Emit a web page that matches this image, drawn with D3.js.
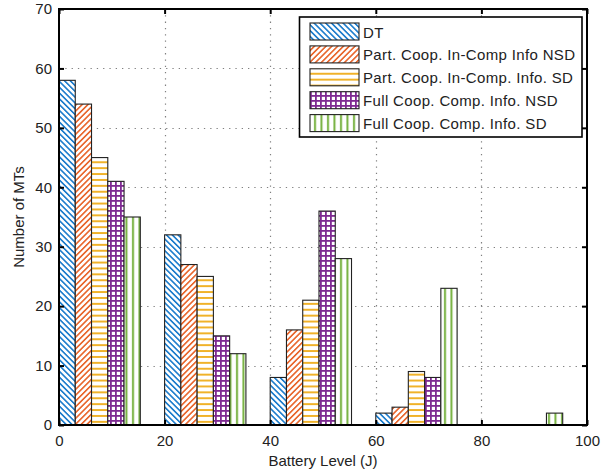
<!DOCTYPE html>
<html><head><meta charset="utf-8">
<script src="https://cdn.jsdelivr.net/npm/d3@7"></script>
<style>
html,body{margin:0;padding:0;background:#fff;}
svg{display:block;font-family:"Liberation Sans",Arial,sans-serif;}
</style></head>
<body>
<svg id="chart" width="608" height="469"></svg>
<script>
// ---- data ----
const categories = [0, 20, 40, 60, 80];
const seriesNames = [
  "DT",
  "Part. Coop. In-Comp Info NSD",
  "Part. Coop. In-Comp. Info. SD",
  "Full Coop. Comp. Info. NSD",
  "Full Coop. Comp. Info. SD"
];
const dtValues       = [58, 32, 8, 2, 0];
const partNsdValues  = [54, 27, 16, 3, 0];
const partSdValues   = [45, 25, 21, 9, 0];
const fullNsdValues  = [41, 15, 36, 8, 0];
const fullSdValues   = [35, 12, 28, 23, 2];
const xTicks = [0, 20, 40, 60, 80, 100];
const yTicks = [0, 10, 20, 30, 40, 50, 60, 70];
const xLabel = "Battery Level (J)";
const yLabel = "Number of MTs";

const seriesValues = [dtValues, partNsdValues, partSdValues, fullNsdValues, fullSdValues];
const colors = ["#1b7bcc", "#e8642a", "#f0b022", "#7e2a92", "#76b13e"];

// ---- layout ----
const W = 608, H = 469;
const m = {left: 59, right: 21, top: 9, bottom: 44};
const pw = W - m.left - m.right, ph = H - m.top - m.bottom;
const barW = 3.08;

const svg = d3.select("#chart");
const defs = svg.append("defs");

// patterns
function diag(id, color, angle) {
  const p = defs.append("pattern").attr("id", id).attr("patternUnits", "userSpaceOnUse")
    .attr("width", 4.1).attr("height", 10).attr("patternTransform", `rotate(${angle})`);
  p.append("rect").attr("width", 4.1).attr("height", 10).attr("fill", "#fff");
  p.append("rect").attr("x", 0).attr("width", 1.6).attr("height", 10).attr("fill", color);
}
diag("pat0", colors[0], -45);
diag("pat1", colors[1], 45);
{
  const p = defs.append("pattern").attr("id", "pat2").attr("patternUnits", "userSpaceOnUse")
    .attr("width", 10).attr("height", 5.9);
  p.append("rect").attr("width", 10).attr("height", 5.9).attr("fill", "#fff");
  p.append("rect").attr("y", 2).attr("width", 10).attr("height", 1.9).attr("fill", colors[2]);
}
{
  const p = defs.append("pattern").attr("id", "pat3").attr("patternUnits", "userSpaceOnUse")
    .attr("width", 5).attr("height", 5);
  p.append("rect").attr("width", 5).attr("height", 5).attr("fill", colors[3]);
  p.append("rect").attr("x", 1.8).attr("y", 1.8).attr("width", 3.2).attr("height", 3.2).attr("fill", "#fff");
}
{
  const p = defs.append("pattern").attr("id", "pat4").attr("patternUnits", "userSpaceOnUse")
    .attr("width", 6.5).attr("height", 10);
  p.append("rect").attr("width", 6.5).attr("height", 10).attr("fill", "#fff");
  p.append("rect").attr("x", 2).attr("width", 2).attr("height", 10).attr("fill", colors[4]);
}

const x = d3.scaleLinear().domain([0, 100]).range([m.left, m.left + pw]);
const y = d3.scaleLinear().domain([0, 70]).range([m.top + ph, m.top]);

// grid
const grid = svg.append("g").attr("stroke", "#808080").attr("stroke-width", 1.2).attr("stroke-dasharray", "1.3,5");
grid.selectAll(".gx").data(xTicks.slice(1, -1)).enter().append("line")
  .attr("x1", d => Math.round(x(d)) + 0.5).attr("x2", d => Math.round(x(d)) + 0.5)
  .attr("y1", m.top).attr("y2", m.top + ph);
grid.selectAll(".gy").data(yTicks.slice(1, -1)).enter().append("line")
  .attr("y1", d => Math.round(y(d)) + 0.5).attr("y2", d => Math.round(y(d)) + 0.5)
  .attr("x1", m.left).attr("x2", m.left + pw);

// bars
const barData = [];
seriesValues.forEach((vals, si) => {
  vals.forEach((v, ci) => {
    if (v > 0) barData.push({s: si, c: categories[ci], v});
  });
});
svg.append("g").selectAll("rect").data(barData).enter().append("rect")
  .attr("x", d => x(d.c + d.s * barW))
  .attr("width", d => x(d.c + (d.s + 1) * barW) - x(d.c + d.s * barW))
  .attr("y", d => y(d.v))
  .attr("height", d => y(0) - y(d.v))
  .attr("fill", d => `url(#pat${d.s})`)
  .attr("stroke", "#222").attr("stroke-width", 1.1);

// axes (MATLAB style box with inward ticks)
const tickLen = 5;
const axB = svg.append("g").attr("transform", `translate(0,${m.top + ph})`)
  .call(d3.axisBottom(x).tickValues(xTicks).tickSize(-tickLen).tickPadding(10).tickFormat(d3.format("d")));
const axT = svg.append("g").attr("transform", `translate(0,${m.top})`)
  .call(d3.axisTop(x).tickValues(xTicks).tickSize(-tickLen).tickFormat(""));
const axL = svg.append("g").attr("transform", `translate(${m.left},0)`)
  .call(d3.axisLeft(y).tickValues(yTicks).tickSize(-tickLen).tickPadding(7).tickFormat(d3.format("d")));
const axR = svg.append("g").attr("transform", `translate(${m.left + pw},0)`)
  .call(d3.axisRight(y).tickValues(yTicks).tickSize(-tickLen).tickFormat(""));
[axB, axT, axL, axR].forEach(a => {
  a.select(".domain").remove();
  a.selectAll(".tick line").attr("stroke", "#000").attr("stroke-width", 2);
  a.selectAll(".tick text").attr("fill", "#222").style("font-size", "15px").style("font-family", "'Liberation Sans',Arial,sans-serif");
});
svg.append("rect").attr("x", m.left).attr("y", m.top).attr("width", pw).attr("height", ph)
  .attr("fill", "none").attr("stroke", "#000").attr("stroke-width", 2);

// axis labels
svg.append("text").attr("x", m.left + pw / 2).attr("y", 466).attr("text-anchor", "middle")
  .attr("fill", "#222").style("font-size", "15px").text(xLabel);
svg.append("text").attr("transform", `translate(24,${m.top + ph / 2}) rotate(-90)`).attr("text-anchor", "middle")
  .attr("fill", "#222").style("font-size", "15px").text(yLabel);

// legend
const lg = svg.append("g");
lg.append("rect").attr("x", 299.5).attr("y", 17).attr("width", 282.5).attr("height", 120)
  .attr("fill", "#fff").attr("stroke", "#000").attr("stroke-width", 1.6);
seriesNames.forEach((name, i) => {
  const yy = 23 + i * 22.9;
  lg.append("rect").attr("x", 310).attr("y", yy).attr("width", 49).attr("height", 17)
    .attr("fill", `url(#pat${i})`).attr("stroke", "#222").attr("stroke-width", 1.1);
  lg.append("text").attr("x", 363).attr("y", yy + 14.5).attr("fill", "#222")
    .style("font-size", "15px").style("letter-spacing", "0.35px").text(name);
});
</script>
</body></html>
